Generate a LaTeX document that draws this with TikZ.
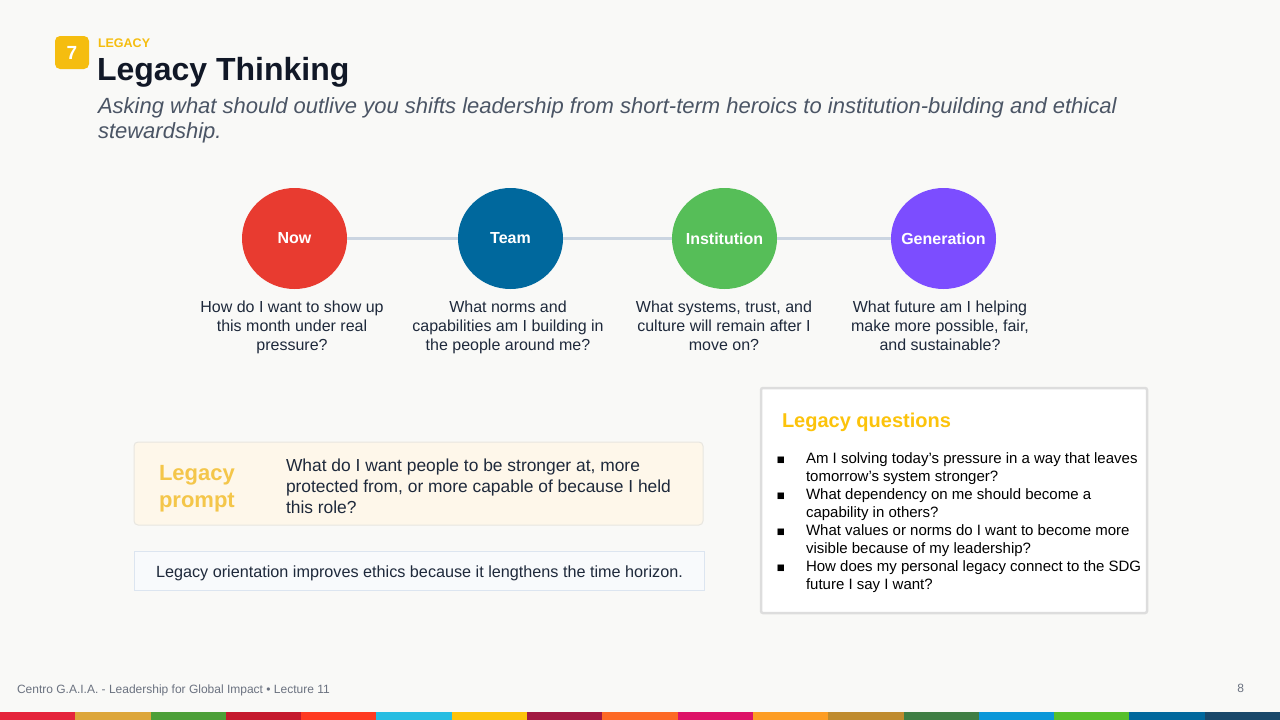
\documentclass[tikz,border=0pt]{standalone}
\usepackage{fontspec}
\setmainfont{Liberation Sans}
\newfontfamily\dejavu{DejaVu Sans}
\usetikzlibrary{shapes.geometric}
\definecolor{bgc}{HTML}{F9F9F7}
\definecolor{kickc}{HTML}{F5BD0F}
\definecolor{titlec}{HTML}{111827}
\definecolor{subc}{HTML}{4B5565}
\definecolor{bodyc}{HTML}{1E293B}
\definecolor{linec}{HTML}{CBD5E1}
\definecolor{nowc}{HTML}{E83B30}
\definecolor{teamc}{HTML}{00689D}
\definecolor{instc}{HTML}{56BE58}
\definecolor{genc}{HTML}{7C4DFF}
\definecolor{promptfill}{HTML}{FEF7EA}
\definecolor{promptdraw}{HTML}{E8E6E0}
\definecolor{promptlab}{HTML}{F4C64A}
\definecolor{notefill}{HTML}{F8FAFC}
\definecolor{notedraw}{HTML}{DCE5F0}
\definecolor{qdraw}{HTML}{DDDDDD}
\definecolor{qtitle}{HTML}{FCC30B}
\definecolor{footc}{HTML}{6B7280}
\definecolor{sdgA}{HTML}{E5243B}
\definecolor{sdgB}{HTML}{DDA63A}
\definecolor{sdgC}{HTML}{4C9F38}
\definecolor{sdgD}{HTML}{C5192D}
\definecolor{sdgE}{HTML}{FF3A21}
\definecolor{sdgF}{HTML}{26BDE2}
\definecolor{sdgG}{HTML}{FCC30B}
\definecolor{sdgH}{HTML}{A21942}
\definecolor{sdgI}{HTML}{FD6925}
\definecolor{sdgJ}{HTML}{DD1367}
\definecolor{sdgK}{HTML}{FD9D24}
\definecolor{sdgL}{HTML}{BF8B2E}
\definecolor{sdgM}{HTML}{3F7E44}
\definecolor{sdgN}{HTML}{0A97D9}
\definecolor{sdgO}{HTML}{56C02B}
\definecolor{sdgP}{HTML}{00689D}
\definecolor{sdgQ}{HTML}{19486A}
\newcommand\fsz[2]{\fontsize{#1}{#2}\selectfont}
\begin{document}
\begin{tikzpicture}[x=1pt,y=-1pt,
  txt/.style={inner sep=0pt, outer sep=0pt},
  stage/.style={ellipse, minimum width=105, minimum height=101, inner sep=-14pt, text=white, font=\bfseries\fsz{16}{19}},
  link/.style={draw=linec, line width=3.2pt},
  capq/.style={txt, anchor=north, align=center, text=bodyc, font=\fsz{16}{19}},
  qline/.style={txt, anchor=north west, align=left, text=black, font=\fsz{15}{18}},
  qbul/.style={txt, text=black, font=\dejavu\fsz{8.5}{10}}]
\useasboundingbox (0,0) rectangle (1280,720);
\fill[bgc] (0,0) rectangle (1280,720);

% header
\node[fill=kickc, rounded corners=5pt, minimum width=34, minimum height=33, inner sep=0pt, text=white, font=\bfseries\fsz{19}{22}] (badge) at (72,52.5) {7};
\node[txt, anchor=base west, text=kickc, font=\bfseries\fsz{12.5}{15}] (kicker) at (98,47) {LEGACY};
\node[txt, anchor=base west, text=titlec, font=\bfseries\fsz{32}{36}] (title) at (97,80) {Legacy Thinking};
\node[txt, anchor=north west, align=left, text=subc, font=\itshape\fsz{22}{25}] (subtitle) at (98,98) {Asking what should outlive you shifts leadership from short-term heroics to institution-building and ethical\\stewardship.};

% stages
\node[stage, fill=nowc] (now) at (294.5,238.5) {Now};
\node[stage, fill=teamc] (team) at (510.5,238.5) {Team};
\node[stage, fill=instc] (inst) at (724.5,238.5) {Institution};
\node[stage, fill=genc] (gen) at (943.5,238.5) {Generation};
\draw[link] (now) -- (team);
\draw[link] (team) -- (inst);
\draw[link] (inst) -- (gen);

\node[capq] (nowq) at (292,300.5) {How do I want to show up\\this month under real\\pressure?};
\node[capq] (teamq) at (508,300.5) {What norms and\\capabilities am I building in\\the people around me?};
\node[capq] (instq) at (724,300.5) {What systems, trust, and\\culture will remain after I\\move on?};
\node[capq] (genq) at (940,300.5) {What future am I helping\\make more possible, fair,\\and sustainable?};

% prompt box
\node[draw=promptdraw, fill=promptfill, rounded corners=4pt, line width=1pt, minimum width=569, minimum height=83, inner sep=0pt] (promptbox) at (418.5,483.5) {};
\node[txt, anchor=north west, align=left, text=promptlab, font=\bfseries\fsz{22}{27}] (promptlab) at (159,465) {Legacy\\prompt};
\node[txt, anchor=north west, align=left, text=bodyc, font=\fsz{17.4}{21}] (prompttext) at (286,459) {What do I want people to be stronger at, more\\protected from, or more capable of because I held\\this role?};

% note box
\node[draw=notedraw, fill=notefill, line width=1pt, minimum width=570, minimum height=39, inner sep=0pt] (notebox) at (419,570.5) {};
\node[txt, anchor=base, text=bodyc, font=\fsz{16.2}{19}] (notetext) at (419.5,577) {Legacy orientation improves ethics because it lengthens the time horizon.};

% questions box
\node[draw=qdraw, fill=white, line width=2.5pt, rounded corners=2pt, minimum width=386, minimum height=225, inner sep=0pt] (qbox) at (954,500.5) {};
\node[txt, anchor=base west, text=qtitle, font=\bfseries\fsz{20}{24}] (qtitle) at (782,427) {Legacy questions};
\node[qbul] (b1) at (781,460) {■};
\node[qline] (q1) at (806,453) {Am I solving today's pressure in a way that leaves\\tomorrow's system stronger?};
\node[qbul] (b2) at (781,496) {■};
\node[qline] (q2) at (806,489) {What dependency on me should become a\\capability in others?};
\node[qbul] (b3) at (781,532) {■};
\node[qline] (q3) at (806,525) {What values or norms do I want to become more\\visible because of my leadership?};
\node[qbul] (b4) at (781,568) {■};
\node[qline] (q4) at (806,561) {How does my personal legacy connect to the SDG\\future I say I want?};

% footer
\node[txt, anchor=base west, text=footc, font=\fsz{12}{14}] (foot) at (17,693) {Centro G.A.I.A. - Leadership for Global Impact • Lecture 11};
\node[txt, anchor=base east, text=footc, font=\fsz{12}{14}] (page) at (1244,692) {8};

% SDG colour band
\foreach \c [count=\i from 0] in {sdgA,sdgB,sdgC,sdgD,sdgE,sdgF,sdgG,sdgH,sdgI,sdgJ,sdgK,sdgL,sdgM,sdgN,sdgO,sdgP,sdgQ}{
  \fill[\c] ({\i*75.2941},712) rectangle ({\i*75.2941+75.6},720);
}
\end{tikzpicture}
\end{document}
